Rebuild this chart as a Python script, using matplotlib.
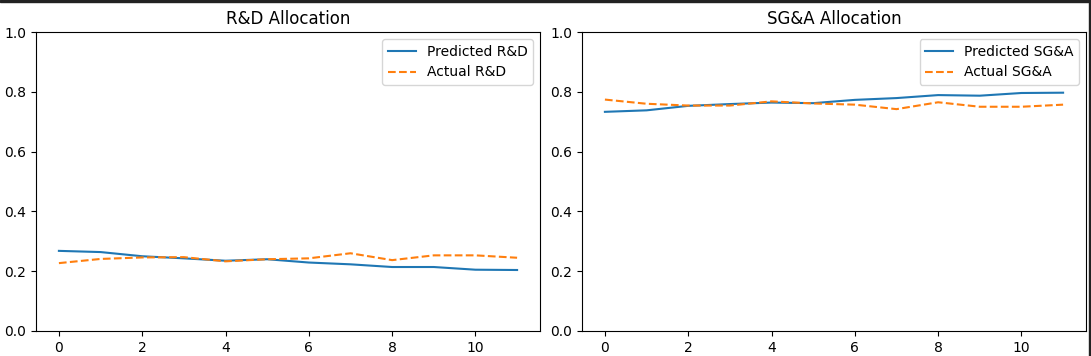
import matplotlib

matplotlib.use("Agg")
import matplotlib.pyplot as plt
from matplotlib.patches import Rectangle

# periods on the x axis
periods = list(range(12))

# R&D share of allocation
predicted_rd = [0.268, 0.264, 0.250, 0.243, 0.235, 0.240, 0.229, 0.223, 0.214, 0.214, 0.205, 0.204]
actual_rd = [0.227, 0.241, 0.246, 0.247, 0.233, 0.240, 0.243, 0.260, 0.237, 0.253, 0.253, 0.245]

# SG&A share of allocation
predicted_sga = [0.733, 0.738, 0.753, 0.759, 0.764, 0.762, 0.773, 0.779, 0.789, 0.787, 0.796, 0.797]
actual_sga = [0.774, 0.760, 0.754, 0.754, 0.768, 0.761, 0.757, 0.742, 0.765, 0.750, 0.750, 0.757]

W, H = 1091, 356
fig = plt.figure(figsize=(W / 100, H / 100), dpi=100)

bottom = (H - 331) / H
height = 299 / H
ax1 = fig.add_axes([36 / W, bottom, 504 / W, height])
ax2 = fig.add_axes([582 / W, bottom, 504 / W, height])

panels = [
    (ax1, predicted_rd, actual_rd, "R&D"),
    (ax2, predicted_sga, actual_sga, "SG&A"),
]
for ax, pred, act, name in panels:
    ax.plot(periods, pred, color="#1f77b4", label=f"Predicted {name}")
    ax.plot(periods, act, color="#ff7f0e", linestyle="--", label=f"Actual {name}")
    ax.set_ylim(0, 1)
    ax.set_xticks([0, 2, 4, 6, 8, 10])
    ax.set_title(f"{name} Allocation")
    ax.legend(loc="upper right")

# screenshot frame edges
fig.patches.append(Rectangle((0, 1 - 2 / H), 1, 2 / H, transform=fig.transFigure, color="#222222"))
fig.patches.append(Rectangle((1 - 2 / W, 0), 2 / W, 1, transform=fig.transFigure, color="#222222"))

fig.savefig("out.png", dpi=100)
